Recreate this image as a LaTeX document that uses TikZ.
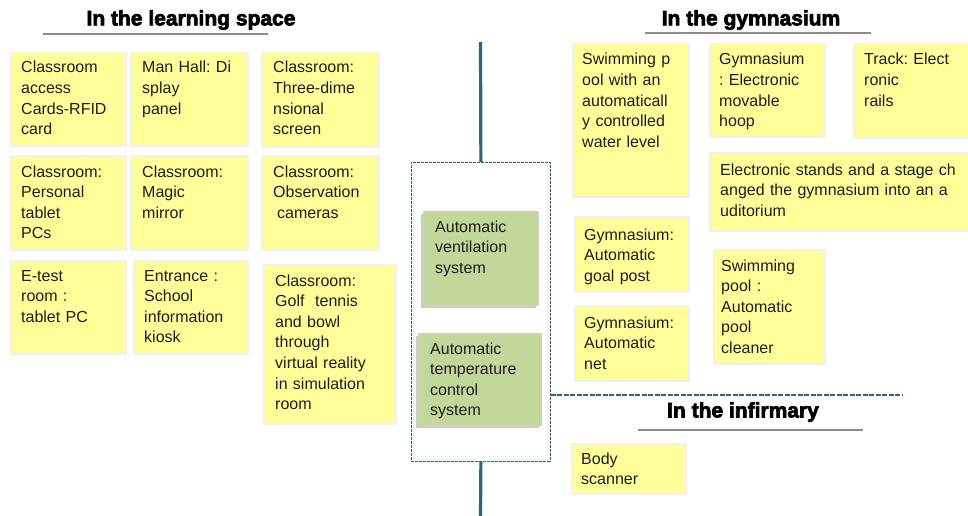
\documentclass[tikz,border=0pt]{standalone}
\usepackage{fontspec}
\setmainfont{Liberation Sans}
\newfontfamily\headfont[FakeBold=3.2]{Liberation Sans Bold}
\usetikzlibrary{shadows}
\definecolor{noteyellow}{HTML}{FFFF99}
\definecolor{noteedge}{HTML}{F0F0F0}
\definecolor{sysgreen}{HTML}{C4D79B}
\definecolor{teal}{HTML}{2F6474}
\definecolor{ink}{HTML}{1E1E1E}
\tikzset{
  note/.style={fill=noteyellow, draw=noteedge, line width=1.5pt, inner sep=0pt, anchor=north west},
  sysbox/.style={fill=sysgreen, draw=sysgreen!85!black!60, line width=0.6pt, inner sep=0pt, anchor=north west,
    drop shadow={shadow xshift=-2.5pt, shadow yshift=-2.5pt, fill=black!35, opacity=0.6}},
  label text/.style={anchor=base west, inner sep=0pt, text width=150pt, align=left, text=ink,
    font=\fontsize{16}{20.6}\selectfont\frenchspacing},
  heading/.style={inner sep=0pt, font=\headfont\fontsize{21}{24}\selectfont},
  heading rule/.style={draw=black!45, line width=1.6pt},
  trunk/.style={draw=teal, line width=3.2pt},
  frame/.style={draw=teal, dashed, dash pattern=on 3pt off 1pt, line width=0.8pt, inner sep=0pt, anchor=north west},
}
\begin{document}
\begin{tikzpicture}[x=1pt, y=-1pt]
\useasboundingbox (0,0) rectangle (968,516);

% ---- headings ----
\node[heading] (hlearn) at (191,20) {In the learning space};
\draw[heading rule] (43,34) -- (268,34);
\node[heading] (hgym) at (751,20) {In the gymnasium};
\draw[heading rule] (645,33) -- (871,33);
\node[heading] (hinf) at (743,412) {In the infirmary};
\draw[heading rule] (638,430) -- (863,430);

% ---- central column ----
\node[frame, minimum width=139pt, minimum height=299pt] (frame) at (411,162) {};
\coordinate (trunktop) at (480.5,42);
\coordinate (trunkbot) at (480.5,516);
\coordinate (divend) at (903,395);
\draw[trunk] (trunktop) -- (frame.north);
\draw[trunk] (frame.south) -- (trunkbot);
\draw[draw=teal, dashed, dash pattern=on 5pt off 1.5pt, line width=1.2pt] (frame.east |- divend) -- (divend);

\node[sysbox, minimum width=115pt, minimum height=94pt] (vent) at (423,211) {};
\node[label text] (ventt) at (435,232) {Automatic\\ventilation\\system};
\node[sysbox, minimum width=123pt, minimum height=92pt] (temp) at (418,333) {};
\node[label text] (tempt) at (430,354) {Automatic\\temperature\\control\\system};

% ---- learning space notes ----
\node[note, minimum width=115pt, minimum height=93pt] (b1) at (10,52) {};
\node[label text] (b1t) at (21,73) {Classroom\\access\\Cards-RFID\\card};
\node[note, minimum width=117pt, minimum height=93pt] (b2) at (130,52) {};
\node[label text] (b2t) at (142,73) {Man Hall: Di\\splay\\panel};
\node[note, minimum width=117pt, minimum height=94pt] (b3) at (261,52) {};
\node[label text] (b3t) at (273,73) {Classroom:\\Three-dime\\nsional\\screen};

\node[note, minimum width=115pt, minimum height=94pt] (b4) at (10,155) {};
\node[label text] (b4t) at (21,177) {Classroom:\\Personal\\tablet\\PCs};
\node[note, minimum width=117pt, minimum height=94pt] (b5) at (130,155) {};
\node[label text] (b5t) at (142,177) {Classroom:\\Magic\\mirror};
\node[note, minimum width=117pt, minimum height=94pt] (b6) at (261,155) {};
\node[label text] (b6t) at (273,177) {Classroom:\\Observation\\\hspace*{4pt}cameras};

\node[note, minimum width=115pt, minimum height=93pt] (b7) at (10,260) {};
\node[label text] (b7t) at (21,281) {E-test\\room :\\tablet PC};
\node[note, minimum width=114pt, minimum height=93pt] (b8) at (133,260) {};
\node[label text] (b8t) at (144,281) {Entrance :\\School\\information\\kiosk};
\node[note, minimum width=132pt, minimum height=159pt] (b9) at (263,264) {};
\node[label text] (b9t) at (275,286) {Classroom:\\Golf\ \ tennis\\and bowl\\through\\virtual reality\\in simulation\\room};

% ---- gymnasium notes ----
\node[note, minimum width=116pt, minimum height=153pt] (g1) at (572,43) {};
\node[label text] (g1t) at (582,65) {Swimming p\\ool with an\\automaticall\\y controlled\\water level};
\node[note, minimum width=115pt, minimum height=93pt] (g2) at (709,43) {};
\node[label text] (g2t) at (719,65) {Gymnasium\\: Electronic\\movable\\hoop};
\node[note, minimum width=116pt, minimum height=94pt] (g3) at (853,43) {};
\node[label text] (g3t) at (864,65) {Track: Elect\\ronic\\rails};
\node[note, minimum width=260pt, minimum height=78pt] (g4) at (709,152) {};
\node[label text, text width=260pt] (g4t) at (720,175) {Electronic stands and a stage ch\\anged the gymnasium into an a\\uditorium};
\node[note, minimum width=114pt, minimum height=75pt] (g5) at (574,216) {};
\node[label text] (g5t) at (584,240) {Gymnasium:\\Automatic\\goal post};
\node[note, minimum width=111pt, minimum height=114pt] (g6) at (713,249) {};
\node[label text] (g6t) at (721,271) {Swimming\\pool :\\Automatic\\pool\\cleaner};
\node[note, minimum width=114pt, minimum height=75pt] (g7) at (574,305) {};
\node[label text] (g7t) at (584,328) {Gymnasium:\\Automatic\\net};

% ---- infirmary note ----
\node[note, minimum width=114pt, minimum height=50pt] (i1) at (571,443) {};
\node[label text] (i1t) at (581,464) {Body\\scanner};
\end{tikzpicture}
\end{document}
